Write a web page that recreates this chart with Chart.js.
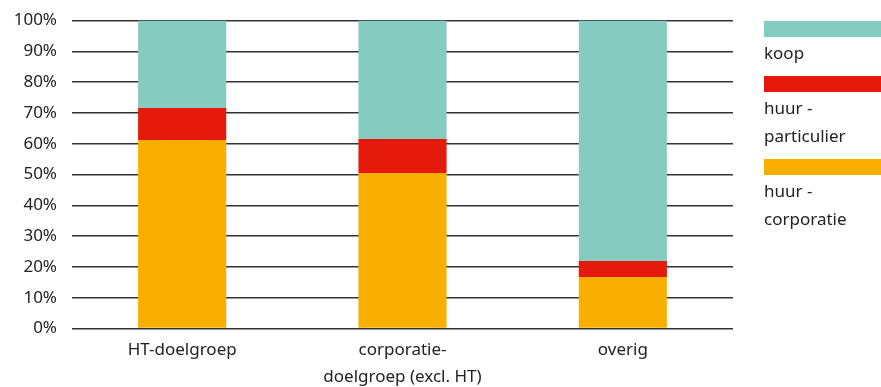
<!DOCTYPE html>
<html>
<head>
<meta charset="utf-8">
<script src="https://cdn.jsdelivr.net/npm/chart.js@4"></script>
<style>
    body { margin: 0; background: #fff; font-family: "Noto Sans", sans-serif; }
    .wrap { position: relative; width: 881px; height: 387px; }
    #legend { position: absolute; left: 764px; top: 21px; width: 117px; color: #222; font-size: 17px; line-height: 28px; }
    .item { margin-bottom: 9px; }
    .swatch { height: 16px; width: 117px; margin-bottom: 2px; }
</style>
</head>
<body>
<div class="wrap">
    <canvas id="chart" width="881" height="387"></canvas>
    <div id="legend"></div>
</div>
<script>
const categories = ['HT-doelgroep', ['corporatie-', 'doelgroep (excl. HT)'], 'overig'];
const huurCorporatie = [61.2, 50.5, 16.7];
const huurParticulier = [10.4, 11.0, 5.2];
const koop = [28.4, 38.5, 78.1];

const series = [
    { label: 'huur - corporatie', lines: ['huur -', 'corporatie'], data: huurCorporatie, color: '#f8af00' },
    { label: 'huur - particulier', lines: ['huur -', 'particulier'], data: huurParticulier, color: '#e5190c' },
    { label: 'koop', lines: ['koop'], data: koop, color: '#86cbbf' }
];

const textColor = '#222';
const font = { family: '"Noto Sans", sans-serif', size: 17 };

new Chart(document.getElementById('chart'), {
    type: 'bar',
    data: {
        labels: categories,
        datasets: series.map(s => ({
            label: s.label,
            data: s.data,
            backgroundColor: s.color,
            categoryPercentage: 1,
            barPercentage: 0.4
        }))
    },
    options: {
        responsive: false,
        animation: false,
        layout: { padding: { left: 0, right: 148, top: 20.5, bottom: 0 } },
        plugins: { legend: { display: false }, tooltip: { enabled: false } },
        scales: {
            x: {
                stacked: true,
                grid: { display: false, drawTicks: false },
                border: { display: false },
                ticks: { color: textColor, font: { ...font, lineHeight: 1.6 }, padding: 8, maxRotation: 0 },
                afterFit: scale => { scale.height = 58.5; }
            },
            y: {
                stacked: true,
                min: 0,
                max: 100,
                grid: { color: '#333', lineWidth: 1.5, drawTicks: false },
                border: { display: false },
                ticks: { stepSize: 10, color: textColor, font, padding: 15, callback: v => v + '%' },
                afterFit: scale => {
                    scale.width = 72;
                    scale.paddingTop = 0;
                    scale.paddingBottom = 0;
                }
            }
        }
    }
});

// legend: koop on top, like the stacking order
const legend = document.getElementById('legend');
series.slice().reverse().forEach(s => {
    const item = document.createElement('div');
    item.className = 'item';
    item.innerHTML = `<div class="swatch" style="background:${s.color}"></div>` + s.lines.map(l => `<div>${l}</div>`).join('');
    legend.appendChild(item);
});
</script>
</body>
</html>
